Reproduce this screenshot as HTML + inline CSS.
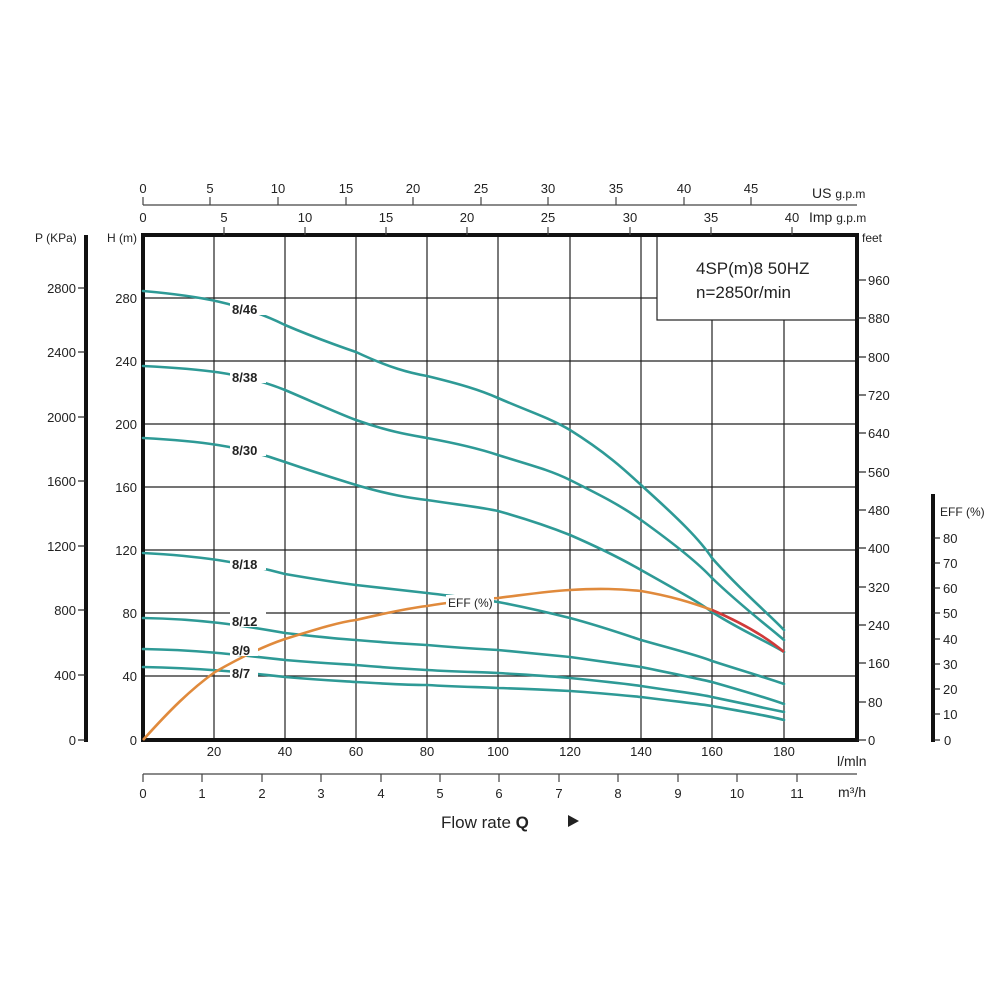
<!DOCTYPE html>
<html><head><meta charset="utf-8"><style>
html,body{margin:0;padding:0;background:#fff}
svg{display:block}
text{font-family:"Liberation Sans",sans-serif;fill:#222}
</style></head><body>
<svg width="1000" height="1000" viewBox="0 0 1000 1000" xmlns="http://www.w3.org/2000/svg">
<!-- grid -->
<g stroke="#222" stroke-width="1.2">
<line x1="214" y1="235" x2="214" y2="740"/><line x1="285" y1="235" x2="285" y2="740"/>
<line x1="356" y1="235" x2="356" y2="740"/><line x1="427" y1="235" x2="427" y2="740"/>
<line x1="498" y1="235" x2="498" y2="740"/><line x1="570" y1="235" x2="570" y2="740"/>
<line x1="641" y1="235" x2="641" y2="740"/><line x1="712" y1="320" x2="712" y2="740"/>
<line x1="784" y1="320" x2="784" y2="740"/>
<line x1="143" y1="298" x2="657" y2="298"/><line x1="143" y1="361" x2="857" y2="361"/>
<line x1="143" y1="424" x2="857" y2="424"/><line x1="143" y1="487" x2="857" y2="487"/>
<line x1="143" y1="550" x2="857" y2="550"/><line x1="143" y1="613" x2="857" y2="613"/>
<line x1="143" y1="676" x2="857" y2="676"/>
<rect x="657" y="235" width="200" height="85" fill="#fff"/>
</g>
<!-- plot frame -->
<rect x="143" y="235" width="714" height="505" fill="none" stroke="#111" stroke-width="4"/>
<text x="696" y="274" font-size="17">4SP(m)8  50HZ</text>
<text x="696" y="298" font-size="17">n=2850r/min</text>
<!-- curves -->
<g fill="none" stroke="#2e9a96" stroke-width="2.6" stroke-linejoin="round" stroke-linecap="round">
<path d="M143,291 C200,296 240,303 285,325 C320,340 356,352 356,352 C390,368 410,373 427,376 C460,384 480,390 498,398 C530,412 550,418 570,430 C610,455 630,475 641,485 C680,520 700,540 712,558 C740,590 770,615 784,630"/>
<path d="M143,366 C200,369 240,372 285,390 C320,405 340,414 356,420 C390,432 410,435 427,438 C460,444 480,449 498,455 C530,465 550,470 570,480 C600,495 620,505 641,520 C680,548 700,565 712,578 C740,605 770,628 784,640"/>
<path d="M143,438 C200,441 240,446 285,462 C320,474 340,480 356,485 C390,495 410,498 427,500 C460,505 480,507 498,511 C530,520 550,527 570,535 C600,548 620,558 641,570 C680,592 700,603 712,612 C740,630 770,643 784,652"/>
<path d="M143,553 C200,556 240,562 285,574 C320,580 340,583 356,585 C390,589 410,591 427,593 C460,597 480,599 498,602 C530,608 550,613 570,618 C600,626 620,633 641,640 C680,651 700,656 712,661 C740,670 770,679 784,684"/>
<path d="M143,618 C200,619 240,625 285,633 C320,637 340,639 356,640 C390,643 410,644 427,645 C460,648 480,649 498,650 C530,653 550,655 570,657 C600,661 620,664 641,667 C680,675 700,679 712,682 C740,690 770,699 784,704"/>
<path d="M143,649 C200,650 240,655 285,660 C320,663 340,664 356,665 C390,668 410,669 427,670 C460,672 480,672 498,673 C530,675 550,676 570,678 C600,681 620,683 641,686 C680,692 700,694 712,697 C740,703 770,709 784,712"/>
<path d="M143,667 C200,668 240,672 285,677 C320,680 340,681 356,682 C390,684 410,685 427,685 C460,687 480,687 498,688 C530,689 550,690 570,691 C600,693 620,695 641,697 C680,702 700,704 712,706 C740,711 770,716 784,720"/>
</g>
<path d="M143,740 C170,710 190,690 215,672 C250,652 270,644 285,639 C320,628 340,622 356,620 C390,612 410,608 427,606 C450,602 470,600 498,598 C530,594 550,591 570,590 C600,588 620,589 641,591 C670,596 690,602 712,610" fill="none" stroke="#e08a3c" stroke-width="2.6"/>
<path d="M712,610 C740,622 765,636 784,652" fill="none" stroke="#d03a3a" stroke-width="2.6"/>
<!-- curve labels -->
<g font-size="13" font-weight="bold">
<rect x="230" y="300" width="36" height="15" fill="#fff"/><text x="232" y="314">8/46</text>
<rect x="230" y="368" width="36" height="15" fill="#fff"/><text x="232" y="382">8/38</text>
<rect x="230" y="441" width="36" height="15" fill="#fff"/><text x="232" y="455">8/30</text>
<rect x="230" y="555" width="36" height="15" fill="#fff"/><text x="232" y="569">8/18</text>
<rect x="230" y="612" width="36" height="15" fill="#fff"/><text x="232" y="626">8/12</text>
<rect x="230" y="642" width="28" height="14" fill="#fff"/><text x="232" y="655">8/9</text>
<rect x="230" y="666" width="28" height="14" fill="#fff"/><text x="232" y="678">8/7</text>
</g>
<rect x="446" y="595" width="48" height="14" fill="#fff"/>
<text x="448" y="607" font-size="12">EFF (%)</text>
<!-- H axis labels -->
<g font-size="13" text-anchor="end">
<text x="137" y="745">0</text><text x="137" y="681">40</text><text x="137" y="618">80</text>
<text x="137" y="555">120</text><text x="137" y="492">160</text><text x="137" y="429">200</text>
<text x="137" y="366">240</text><text x="137" y="303">280</text>
</g>
<text x="107" y="242" font-size="12">H (m)</text>
<!-- P axis -->
<line x1="86" y1="235" x2="86" y2="742" stroke="#111" stroke-width="4"/>
<g stroke="#222" stroke-width="1.2">
<line x1="78" y1="740" x2="86" y2="740"/><line x1="78" y1="675" x2="86" y2="675"/><line x1="78" y1="610" x2="86" y2="610"/>
<line x1="78" y1="546" x2="86" y2="546"/><line x1="78" y1="481" x2="86" y2="481"/><line x1="78" y1="417" x2="86" y2="417"/>
<line x1="78" y1="352" x2="86" y2="352"/><line x1="78" y1="288" x2="86" y2="288"/>
</g>
<g font-size="13" text-anchor="end">
<text x="76" y="745">0</text><text x="76" y="680">400</text><text x="76" y="615">800</text>
<text x="76" y="551">1200</text><text x="76" y="486">1600</text><text x="76" y="422">2000</text>
<text x="76" y="357">2400</text><text x="76" y="293">2800</text>
</g>
<text x="35" y="242" font-size="12">P (KPa)</text>
<!-- feet axis -->
<g stroke="#222" stroke-width="1.2">
<line x1="857" y1="740" x2="866" y2="740"/><line x1="857" y1="702" x2="866" y2="702"/><line x1="857" y1="663" x2="866" y2="663"/>
<line x1="857" y1="625" x2="866" y2="625"/><line x1="857" y1="587" x2="866" y2="587"/><line x1="857" y1="548" x2="866" y2="548"/>
<line x1="857" y1="510" x2="866" y2="510"/><line x1="857" y1="472" x2="866" y2="472"/><line x1="857" y1="433" x2="866" y2="433"/>
<line x1="857" y1="395" x2="866" y2="395"/><line x1="857" y1="357" x2="866" y2="357"/><line x1="857" y1="318" x2="866" y2="318"/>
<line x1="857" y1="280" x2="866" y2="280"/>
</g>
<g font-size="13">
<text x="868" y="745">0</text><text x="868" y="707">80</text><text x="868" y="668">160</text>
<text x="868" y="630">240</text><text x="868" y="592">320</text><text x="868" y="553">400</text>
<text x="868" y="515">480</text><text x="868" y="477">560</text><text x="868" y="438">640</text>
<text x="868" y="400">720</text><text x="868" y="362">800</text><text x="868" y="323">880</text>
<text x="868" y="285">960</text>
</g>
<text x="862" y="242" font-size="12">feet</text>
<!-- EFF axis -->
<line x1="933" y1="494" x2="933" y2="742" stroke="#111" stroke-width="4"/>
<g stroke="#222" stroke-width="1.2">
<line x1="933" y1="740" x2="940" y2="740"/><line x1="933" y1="714" x2="940" y2="714"/><line x1="933" y1="689" x2="940" y2="689"/>
<line x1="933" y1="664" x2="940" y2="664"/><line x1="933" y1="639" x2="940" y2="639"/><line x1="933" y1="613" x2="940" y2="613"/>
<line x1="933" y1="588" x2="940" y2="588"/><line x1="933" y1="563" x2="940" y2="563"/><line x1="933" y1="538" x2="940" y2="538"/>
</g>
<g font-size="13">
<text x="944" y="745">0</text><text x="943" y="719">10</text><text x="943" y="694">20</text>
<text x="943" y="669">30</text><text x="943" y="644">40</text><text x="943" y="618">50</text>
<text x="943" y="593">60</text><text x="943" y="568">70</text><text x="943" y="543">80</text>
</g>
<text x="940" y="516" font-size="12">EFF (%)</text>
<!-- l/min labels -->
<g font-size="13" text-anchor="middle">
<text x="214" y="756">20</text><text x="285" y="756">40</text><text x="356" y="756">60</text>
<text x="427" y="756">80</text><text x="498" y="756">100</text><text x="570" y="756">120</text>
<text x="641" y="756">140</text><text x="712" y="756">160</text><text x="784" y="756">180</text>
</g>
<text x="837" y="766" font-size="14">l/mln</text>
<!-- m3/h axis -->
<line x1="143" y1="774" x2="857" y2="774" stroke="#444" stroke-width="1.2"/>
<g stroke="#444" stroke-width="1.2">
<line x1="143" y1="774" x2="143" y2="782"/><line x1="202" y1="774" x2="202" y2="782"/><line x1="262" y1="774" x2="262" y2="782"/>
<line x1="321" y1="774" x2="321" y2="782"/><line x1="381" y1="774" x2="381" y2="782"/><line x1="440" y1="774" x2="440" y2="782"/>
<line x1="499" y1="774" x2="499" y2="782"/><line x1="559" y1="774" x2="559" y2="782"/><line x1="618" y1="774" x2="618" y2="782"/>
<line x1="678" y1="774" x2="678" y2="782"/><line x1="737" y1="774" x2="737" y2="782"/><line x1="797" y1="774" x2="797" y2="782"/>
</g>
<g font-size="13" text-anchor="middle">
<text x="143" y="798">0</text><text x="202" y="798">1</text><text x="262" y="798">2</text><text x="321" y="798">3</text>
<text x="381" y="798">4</text><text x="440" y="798">5</text><text x="499" y="798">6</text><text x="559" y="798">7</text>
<text x="618" y="798">8</text><text x="678" y="798">9</text><text x="737" y="798">10</text><text x="797" y="798">11</text>
</g>
<text x="838" y="797" font-size="14">m³/h</text>
<text x="441" y="828" font-size="17">Flow rate <tspan font-weight="bold">Q</tspan></text>
<path d="M568,815 L579,821 L568,827 Z" fill="#222"/>
<!-- US gpm axis -->
<line x1="143" y1="205" x2="857" y2="205" stroke="#444" stroke-width="1.2"/>
<g stroke="#444" stroke-width="1.2">
<line x1="143" y1="197" x2="143" y2="205"/><line x1="210" y1="197" x2="210" y2="205"/><line x1="278" y1="197" x2="278" y2="205"/>
<line x1="346" y1="197" x2="346" y2="205"/><line x1="413" y1="197" x2="413" y2="205"/><line x1="481" y1="197" x2="481" y2="205"/>
<line x1="548" y1="197" x2="548" y2="205"/><line x1="616" y1="197" x2="616" y2="205"/><line x1="684" y1="197" x2="684" y2="205"/>
<line x1="751" y1="197" x2="751" y2="205"/>
</g>
<g font-size="13" text-anchor="middle">
<text x="143" y="193">0</text><text x="210" y="193">5</text><text x="278" y="193">10</text><text x="346" y="193">15</text>
<text x="413" y="193">20</text><text x="481" y="193">25</text><text x="548" y="193">30</text><text x="616" y="193">35</text>
<text x="684" y="193">40</text><text x="751" y="193">45</text>
</g>
<text x="812" y="198" font-size="14">US <tspan font-size="12">g.p.m</tspan></text>
<!-- Imp gpm -->
<g stroke="#444" stroke-width="1.2">
<line x1="224" y1="227" x2="224" y2="235"/><line x1="305" y1="227" x2="305" y2="235"/><line x1="386" y1="227" x2="386" y2="235"/>
<line x1="467" y1="227" x2="467" y2="235"/><line x1="548" y1="227" x2="548" y2="235"/><line x1="630" y1="227" x2="630" y2="235"/>
<line x1="711" y1="227" x2="711" y2="235"/><line x1="792" y1="227" x2="792" y2="235"/>
</g>
<g font-size="13" text-anchor="middle">
<text x="143" y="222">0</text><text x="224" y="222">5</text><text x="305" y="222">10</text><text x="386" y="222">15</text>
<text x="467" y="222">20</text><text x="548" y="222">25</text><text x="630" y="222">30</text><text x="711" y="222">35</text>
<text x="792" y="222">40</text>
</g>
<text x="809" y="222" font-size="14">Imp <tspan font-size="12">g.p.m</tspan></text>
</svg>
</body></html>
